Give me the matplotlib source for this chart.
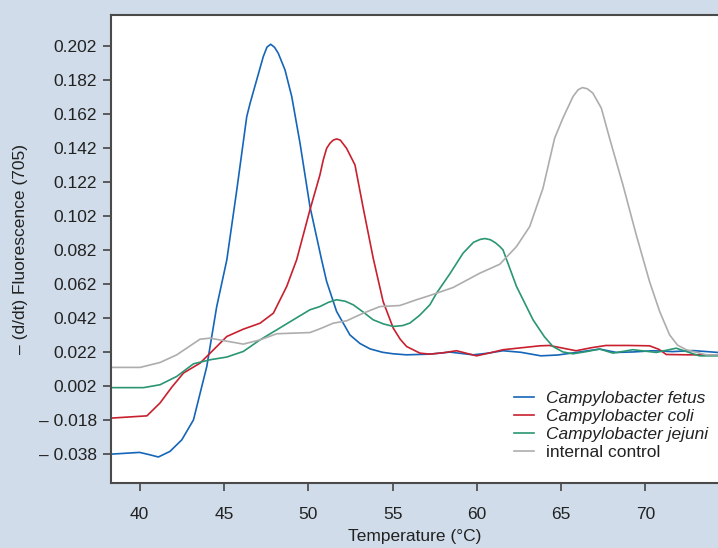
import matplotlib
matplotlib.use("Agg")
import matplotlib.pyplot as plt

plt.rcParams['font.family'] = ['Liberation Sans', 'DejaVu Sans']

# melt curves
fetus_t = [38.35, 40.0, 40.6, 41.11, 41.8, 42.5, 43.19, 43.98, 44.57, 45.17, 45.76, 46.35, 46.55,
           46.94, 47.33, 47.55, 47.77, 48.0, 48.22, 48.62, 49.02, 49.51, 50.1, 50.79, 51.09,
           51.68, 52.47, 53.06, 53.66, 54.4, 55.04, 55.83, 57.2, 58.4, 59.78, 60.6, 61.55, 62.6,
           63.8, 64.8, 65.9, 67.28, 68.27, 69.3, 70.44, 71.6, 72.81, 74.3]
fetus = [-0.0381, -0.0371, -0.0385, -0.0398, -0.0365, -0.0297, -0.018, 0.0134, 0.0487, 0.0762,
         0.1173, 0.1604, 0.1683, 0.182, 0.1957, 0.2013, 0.203, 0.2012, 0.1977, 0.1879, 0.1722,
         0.1448, 0.1075, 0.0762, 0.0634, 0.0458, 0.032, 0.0270, 0.0238, 0.0218, 0.0209, 0.0203,
         0.0207, 0.0219, 0.0203, 0.0212, 0.0227, 0.0218, 0.0197, 0.0202, 0.0217, 0.0237, 0.0217,
         0.0220, 0.0227, 0.0222, 0.0228, 0.0217]

coli_t = [38.35, 40.43, 41.21, 41.9, 42.6, 43.58, 44.18, 45.17, 46.15, 47.14, 47.93, 48.72, 49.31,
          50.1, 50.69, 50.89, 51.09, 51.29, 51.48, 51.68, 51.9, 52.27, 52.77, 53.26, 53.85, 54.44,
          55.04, 55.45, 55.83, 56.62, 57.21, 58.0, 58.79, 59.98, 60.8, 61.55, 62.6, 63.73, 64.3,
          65.88, 66.8, 67.66, 69.0, 70.24, 70.8, 71.23, 72.5, 74.3]
coli = [-0.0169, -0.0156, -0.008, 0.0012, 0.0096, 0.0154, 0.0213, 0.0311, 0.0354, 0.0389, 0.0448,
        0.0605, 0.0762, 0.1056, 0.1261, 0.135, 0.1418, 0.1448, 0.1466, 0.1473, 0.1466, 0.1418,
        0.132, 0.1066, 0.0772, 0.0516, 0.036, 0.0295, 0.0252, 0.0213, 0.0207, 0.0215, 0.0227,
        0.0197, 0.0215, 0.0233, 0.0244, 0.0256, 0.0258, 0.0227, 0.0245, 0.0258, 0.0258, 0.0256,
        0.0235, 0.0205, 0.0203, 0.0203]

jejuni_t = [38.35, 40.23, 41.21, 42.2, 43.19, 44.18, 45.17, 46.15, 47.14, 48.13, 49.11, 50.1,
            50.69, 51.2, 51.68, 52.2, 52.67, 53.25, 53.85, 54.45, 55.04, 55.6, 56.03, 56.6, 57.21,
            57.61, 58.4, 59.18, 59.8, 60.2, 60.47, 60.8, 61.1, 61.36, 61.55, 62.35, 63.33, 64.0,
            64.51, 65.1, 65.7, 66.5, 67.28, 68.07, 69.25, 70.64, 71.82, 73.2, 74.3]
jejuni = [0.001, 0.001, 0.0027, 0.0076, 0.015, 0.0174, 0.019, 0.0223, 0.0291, 0.035, 0.0409,
          0.0468, 0.0487, 0.0512, 0.0527, 0.0518, 0.0497, 0.0455, 0.0409, 0.0385, 0.037, 0.0375,
          0.039, 0.0435, 0.0497, 0.0566, 0.068, 0.0801, 0.0865, 0.0882, 0.0887, 0.0880, 0.0862,
          0.0840, 0.0820, 0.0605, 0.0409, 0.031, 0.0252, 0.0220, 0.0209, 0.0222, 0.0237, 0.0213,
          0.0233, 0.0217, 0.0242, 0.0197, 0.0197]

control_t = [38.35, 40.03, 41.21, 42.2, 43.58, 44.18, 44.96, 46.15, 47.14, 48.13, 50.1, 50.69,
             51.48, 52.27, 53.26, 54.25, 55.43, 56.42, 57.21, 58.59, 60.17, 61.36, 62.35, 63.13,
             63.92, 64.61, 65.1, 65.7, 66.0, 66.26, 66.55, 66.88, 67.38, 67.87, 68.66, 69.45,
             70.24, 70.84, 71.43, 71.9, 72.42, 73.6, 74.3]
control = [0.0129, 0.0129, 0.0158, 0.0203, 0.0295, 0.0301, 0.0287, 0.0266, 0.0291, 0.0327, 0.0334,
           0.0356, 0.0389, 0.0403, 0.0448, 0.0487, 0.0493, 0.0527, 0.0552, 0.0599, 0.0683, 0.0736,
           0.084, 0.0957, 0.1183, 0.1477, 0.1595, 0.1722, 0.1762, 0.1775, 0.1768, 0.1742, 0.1654,
           0.1477, 0.1203, 0.0909, 0.0634, 0.0458, 0.032, 0.0260, 0.0233, 0.0203, 0.0203]

labels = ['Campylobacter fetus', 'Campylobacter coli', 'Campylobacter jejuni', 'internal control']
colors = ['#1565b8', '#c8202e', '#2a9672', '#adadad']
xticks = [40, 45, 50, 55, 60, 65, 70]
yticks = [0.202, 0.182, 0.162, 0.142, 0.122, 0.102, 0.082, 0.062, 0.042, 0.022, 0.002, -0.018, -0.038]

bg = '#d0dce9'
fig = plt.figure(figsize=(7.18, 5.48), dpi=100, facecolor=bg)
ax = fig.add_axes([111 / 718, 65 / 548, 1 - 111 / 718, 468 / 548])

series = [(fetus_t, fetus), (coli_t, coli), (jejuni_t, jejuni), (control_t, control)]
for (t, v), c, lab in zip(series, colors, labels):
    ax.plot(t, v, color=c, lw=1.2, label=lab, solid_joinstyle='round')

ax.set_xlim(38.3, 74.3)
ax.set_ylim(-0.0551, 0.2202)
ax.set_xticks(xticks)
ax.set_yticks(yticks)
ax.set_yticklabels([f'{y:.3f}' if y >= 0 else f'\u2013 {abs(y):.3f}' for y in yticks])
ax.tick_params(direction='out', length=6, width=1.2, color='#444444', labelsize=12.5,
               labelcolor='#222222', pad=4)
ax.tick_params(axis='x', pad=11)
for side in ['left', 'bottom', 'top']:
    ax.spines[side].set_color('#4a4a4a')
    ax.spines[side].set_linewidth(1.5)
ax.spines['right'].set_visible(False)

ax.set_xlabel('Temperature (°C)', fontsize=12.5, color='#222222', labelpad=5)
ax.set_ylabel('\u2013 (d/dt) Fluorescence (705)', fontsize=12.5, color='#222222', labelpad=8)

leg = ax.legend(loc='upper left', bbox_to_anchor=(514 / 718, 1 - 391 / 548),
                bbox_transform=fig.transFigure, frameon=False, fontsize=12.5,
                handlelength=1.15, handletextpad=0.7, labelspacing=0.16, borderaxespad=0,
                borderpad=0)
for txt in leg.get_texts()[:3]:
    txt.set_fontstyle('italic')
for txt in leg.get_texts():
    txt.set_color('#222222')

fig.savefig('out.png', dpi=100, facecolor=bg)
